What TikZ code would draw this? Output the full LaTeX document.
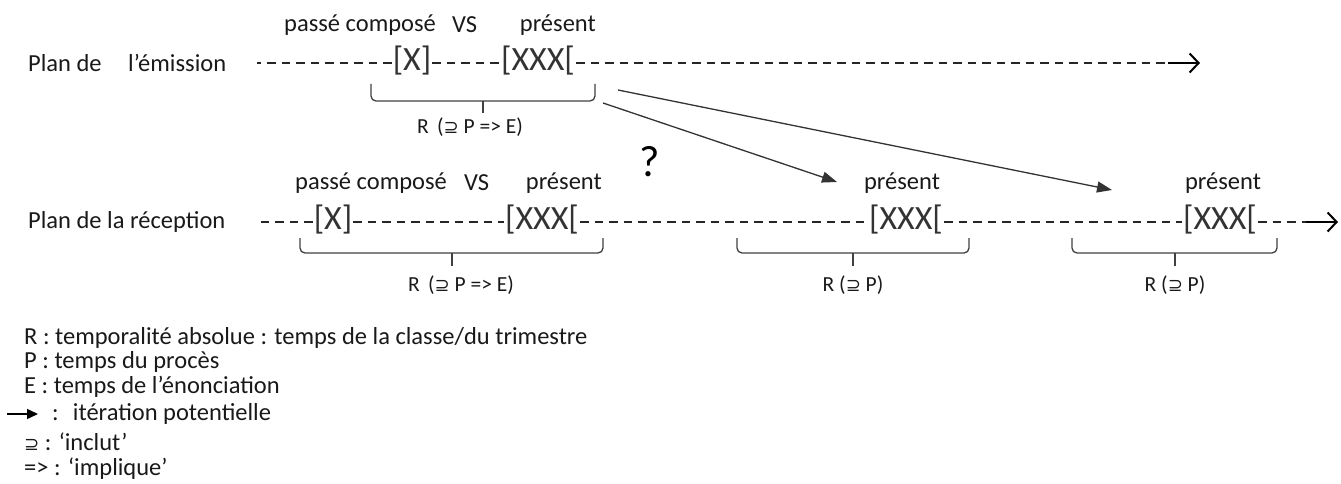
\documentclass[tikz,border=0pt]{standalone}
\usepackage{fontspec}
\setmainfont{Carlito}
\newfontfamily\symfont{DejaVu Sans}
\usetikzlibrary{arrows.meta}
\newcommand{\incl}{{\symfont\fontsize{18}{20}\selectfont ⊇}}
\begin{document}
\begin{tikzpicture}[x=1pt,y=-1pt,
  txt/.style={font=\fontsize{24.5}{28}\selectfont, inner sep=0pt, text=black!90},
  small/.style={font=\fontsize{21.5}{24}\selectfont, inner sep=0pt, text=black!90},
  brk/.style={font=\fontsize{34}{36}\selectfont, inner sep=1pt, text=black!80},
  qmark/.style={font=\fontsize{44}{46}\selectfont, inner sep=0pt},
  timeline/.style={line width=1.9pt, dash pattern=on 8.5pt off 6pt, black!85},
  endarrow/.style={line width=2pt, -{Straight Barb[length=9pt,width=19pt,line width=2pt]}},
  iter/.style={line width=1.3pt, black!80, -{Triangle[length=15pt,width=11pt]}},
  bracepath/.style={line width=1.3pt, black!75, rounded corners=5pt}
]
\useasboundingbox (0,0) rectangle (1341,484);

% ---------- Row 1 : emission ----------
\node[txt, anchor=west] (pl1a) at (28,63) {Plan de};
\node[txt, anchor=west] (pl1b) at (128,63) {l’émission};
\node[txt, anchor=west] (t1a) at (284,25) {passé composé};
\node[txt, anchor=west] (t1b) at (452,25) {VS};
\node[txt, anchor=east] (t1c) at (596,25) {présent};

\coordinate (r1s) at (257,63);
\node[brk] (x1) at (412,61) {[X]};
\node[brk] (x2) at (538,61) {[XXX[};
\coordinate (r1e) at (1168,63);
\coordinate (r1a) at (1200,63);
\draw[timeline] (x1.west |- r1s) -- (r1s);
\draw[timeline] (x1.east |- r1s) -- (x2.west |- r1s);
\draw[timeline] (x2.east |- r1s) -- (r1e);
\draw[endarrow] (r1e) -- (r1a);

% brace row 1
\coordinate (b1l) at (371,84);
\coordinate (b1r) at (595,84);
\coordinate (b1t) at (483,113);
\draw[bracepath] (b1l) |- (b1t |- 0,101) -- (b1r |- 0,101) -- (b1r);
\draw[line width=1.3pt, black!75] (b1t |- 0,101) -- (b1t);
\node[small] (R1) at (470,127) {R\, (\incl\ P => E)};

% ---------- iteration arrows ----------
\coordinate (a1s) at (603,103);
\coordinate (a2s) at (618,90);
\coordinate (a1e) at (837,182);
\coordinate (a2e) at (1112,190);
\draw[iter] (a1s) -- (a1e);
\draw[iter] (a2s) -- (a2e);

\node[qmark] (q) at (650,162) {?};

% ---------- Row 2 : reception ----------
\node[txt, anchor=west] (pl2) at (28,222) {Plan de la réception};
\node[txt, anchor=west] (t2a) at (295,183) {passé composé};
\node[txt, anchor=west] (t2b) at (464,183) {VS};
\node[txt, anchor=east] (t2c) at (602,183) {présent};
\node[txt] (p2) at (902,183) {présent};
\node[txt] (p3) at (1223,183) {présent};

\coordinate (r2s) at (255,222);
\node[brk] (y1) at (333,220) {[X]};
\node[brk] (y2) at (542,220) {[XXX[};
\node[brk] (y3) at (906,220) {[XXX[};
\node[brk] (y4) at (1220,220) {[XXX[};
\coordinate (r2e) at (1306,222);
\coordinate (r2a) at (1338,222);
\draw[timeline] (y1.west |- r2s) -- (r2s);
\draw[timeline] (y1.east |- r2s) -- (y2.west |- r2s);
\draw[timeline] (y2.east |- r2s) -- (y3.west |- r2s);
\draw[timeline] (y3.east |- r2s) -- (y4.west |- r2s);
\draw[timeline] (y4.east |- r2s) -- (r2e);
\draw[endarrow] (r2e) -- (r2a);

% braces row 2
\coordinate (b2l) at (300,238);
\coordinate (b2r) at (603,238);
\coordinate (b2t) at (452,266);
\draw[bracepath] (b2l) |- (b2t |- 0,253) -- (b2r |- 0,253) -- (b2r);
\draw[line width=1.3pt, black!75] (b2t |- 0,253) -- (b2t);
\node[small] (R2) at (461,285) {R\, (\incl\ P => E)};

\coordinate (b3l) at (737,238);
\coordinate (b3r) at (969,238);
\coordinate (b3t) at (853,266);
\draw[bracepath] (b3l) |- (b3t |- 0,253) -- (b3r |- 0,253) -- (b3r);
\draw[line width=1.3pt, black!75] (b3t |- 0,253) -- (b3t);
\node[small] (R3) at (853,285) {R (\incl\ P)};

\coordinate (b4l) at (1072,238);
\coordinate (b4r) at (1277,238);
\coordinate (b4t) at (1175,266);
\draw[bracepath] (b4l) |- (b4t |- 0,253) -- (b4r |- 0,253) -- (b4r);
\draw[line width=1.3pt, black!75] (b4t |- 0,253) -- (b4t);
\node[small] (R4) at (1175,285) {R (\incl\ P)};

% ---------- Legend ----------
\node[txt, anchor=west] (l1) at (24,338) {R : temporalité absolue : temps de la classe/du trimestre};
\node[txt, anchor=west] (l2) at (24,362) {P : temps du procès};
\node[txt, anchor=west] (l3) at (24,387) {E : temps de l’énonciation};
\coordinate (la1) at (7,414);
\coordinate (la2) at (38,414);
\draw[line width=1.5pt, -{Triangle[length=11pt,width=10pt]}] (la1) -- (la2);
\node[txt, anchor=west] (l4) at (52,414) {:\; itération potentielle};
\node[txt, anchor=west] (l5) at (24,442) {\incl\ : ‘inclut’};
\node[txt, anchor=west] (l6) at (24,469) {=> : ‘implique’};
\end{tikzpicture}
\end{document}
